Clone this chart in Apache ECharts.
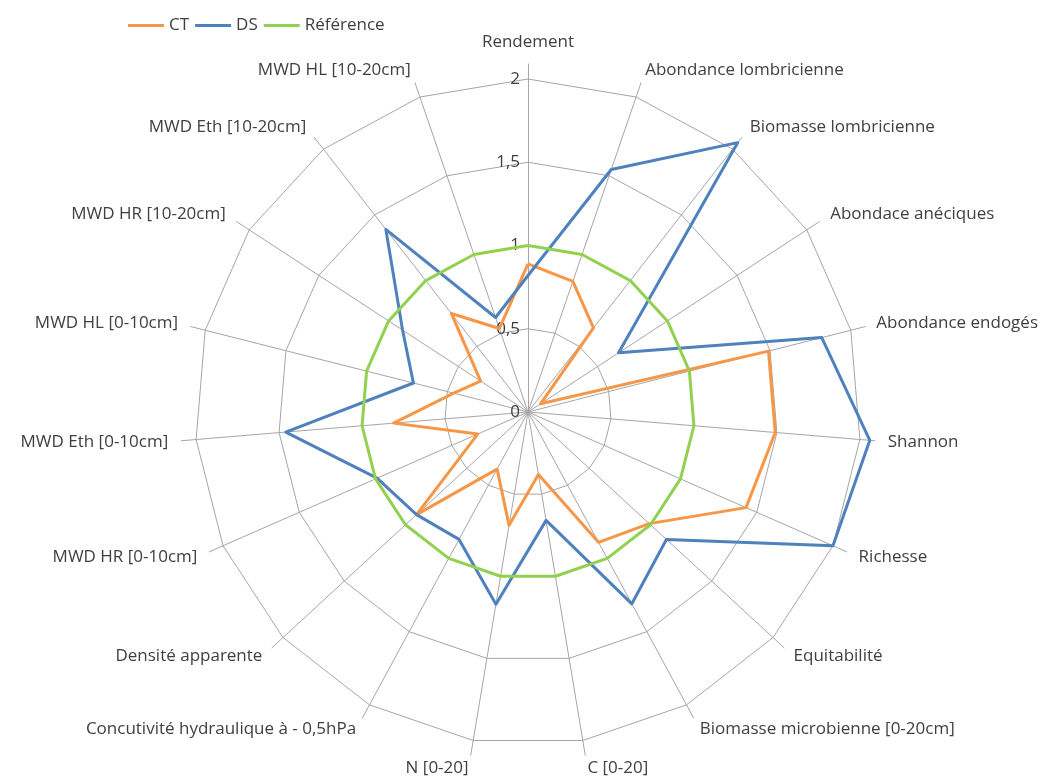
<!DOCTYPE html>
<html><head><meta charset="utf-8">
<script src="https://cdn.jsdelivr.net/npm/echarts@6/dist/echarts.min.js"></script>
<style>html,body{margin:0;padding:0;background:#fff}#c{width:1045px;height:778px}</style>
</head><body><div id="c"></div>
<script>
// ---- data (reference order, clockwise from top) ----
const indicators = ['Rendement','Abondance lombricienne','Biomasse lombricienne','Abondace anéciques','Abondance endogés','Shannon','Richesse','Equitabilité','Biomasse microbienne [0-20cm]','C [0-20]','N [0-20]','Concutivité hydraulique à - 0,5hPa','Densité apparente','MWD HR [0-10cm]','MWD Eth [0-10cm]','MWD HL [0-10cm]','MWD HR [10-20cm]','MWD Eth [10-20cm]','MWD HL [10-20cm]'];
const seriesNames = ['CT','DS','Référence'];
const ctValues  = [0.89,0.83,0.64,0.09,1.49,1.49,1.43,0.99,0.89,0.38,0.69,0.39,0.91,0.33,0.81,0.46,0.34,0.75,0.53];
const dsValues  = [0.82,1.54,2.05,0.65,1.82,2.06,2.00,1.13,1.31,0.66,1.17,0.87,0.91,0.99,1.46,0.71,0.90,1.39,0.60];
const refValues = [1,1,1,1,1,1,1,1,1,1,1,1,1,1,1,1,1,1,1];
const tickValues = [0,0.5,1,1.5,2];
const tickLabels = ['0','0,5','1','1,5','2'];

// ---- layout / style ----
const CX = 528, CY = 412, R = 333, MAX = 2;
const FONT = '"Open Sans", sans-serif';
const FS = 17;
const TEXT = '#404040', GRID = '#a6a6a6';
const colors = ['#F79646','#4F81BD','#92D050'];

// ECharts lays indicators counter-clockwise; reorder so they run clockwise as in the reference
const order = [0]; for (let i = indicators.length - 1; i >= 1; i--) order.push(i);
const ro = arr => order.map(i => arr[i]);
const ind = ro(indicators).map(n => ({ name: n, min: 0, max: MAX }));

const chart = echarts.init(document.getElementById('c'), null, { renderer: 'canvas' });

// indicator names as text around the web
const mctx = document.createElement('canvas').getContext('2d');
mctx.font = FS + 'px "Open Sans"';
const N = indicators.length, LR = 361;
const labelEls = indicators.map((name, i) => {
  const a = (90 - i * 360 / N) * Math.PI / 180;
  const c = Math.cos(a), s = Math.sin(a);
  let x = CX + LR * c, y = CY - LR * s;
  let align, vAlign = 'middle';
  if (Math.abs(c) < 1e-6) { align = 'center'; vAlign = s > 0 ? 'bottom' : 'top'; }
  else align = c > 0 ? 'left' : 'right';
  const w = mctx.measureText(name).width;
  if (align === 'right' && x - w < 10) { x = 10; align = 'left'; }
  if (align === 'left' && x + w > 1038) { x = 1038; align = 'right'; }
  return { type: 'text', x: x, y: y, silent: true,
    style: { text: name, fill: TEXT, fontSize: FS, fontFamily: FONT,
             align: align, textAlign: align, verticalAlign: vAlign, textVerticalAlign: vAlign } };
});

const lineItem = (name, vals, col) => ({
  name: name, value: ro(vals),
  lineStyle: { color: col, width: 3 }, itemStyle: { color: col }
});

chart.setOption({
  animation: false,
  backgroundColor: '#fff',
  legend: {
    data: seriesNames, left: 123, top: 12, icon: 'rect', itemWidth: 36, itemHeight: 3, itemGap: 6,
    textStyle: { fontSize: FS, fontFamily: FONT, color: TEXT }
  },
  radar: [
    { center: [CX, CY], radius: R, startAngle: 90, indicator: ind, splitNumber: 4, shape: 'polygon',
      axisName: { show: false }, axisLine: { show: false },
      splitLine: { lineStyle: { color: GRID, width: 1 } }, splitArea: { show: false } },
    { center: [CX, CY], radius: 348, startAngle: 90, indicator: ind, splitNumber: 1, shape: 'polygon',
      axisName: { show: false }, axisLine: { lineStyle: { color: GRID, width: 1 } },
      splitLine: { show: false }, splitArea: { show: false } }
  ],
  polar: { center: [CX, CY], radius: R },
  angleAxis: { show: false, startAngle: 90, min: 0, max: 360 },
  radiusAxis: {
    min: tickValues[0], max: tickValues[tickValues.length - 1], interval: tickValues[1] - tickValues[0],
    axisLine: { show: false }, axisTick: { show: false }, splitLine: { show: false },
    axisLabel: { formatter: v => tickLabels[tickValues.indexOf(v)], color: TEXT, fontSize: FS, fontFamily: FONT, margin: 8 }
  },
  graphic: labelEls,
  series: [{
    type: 'radar', radarIndex: 0, symbol: 'none',
    data: [
      lineItem(seriesNames[0], ctValues, colors[0]),
      lineItem(seriesNames[1], dsValues, colors[1]),
      lineItem(seriesNames[2], refValues, colors[2])
    ]
  }]
});
</script></body></html>
